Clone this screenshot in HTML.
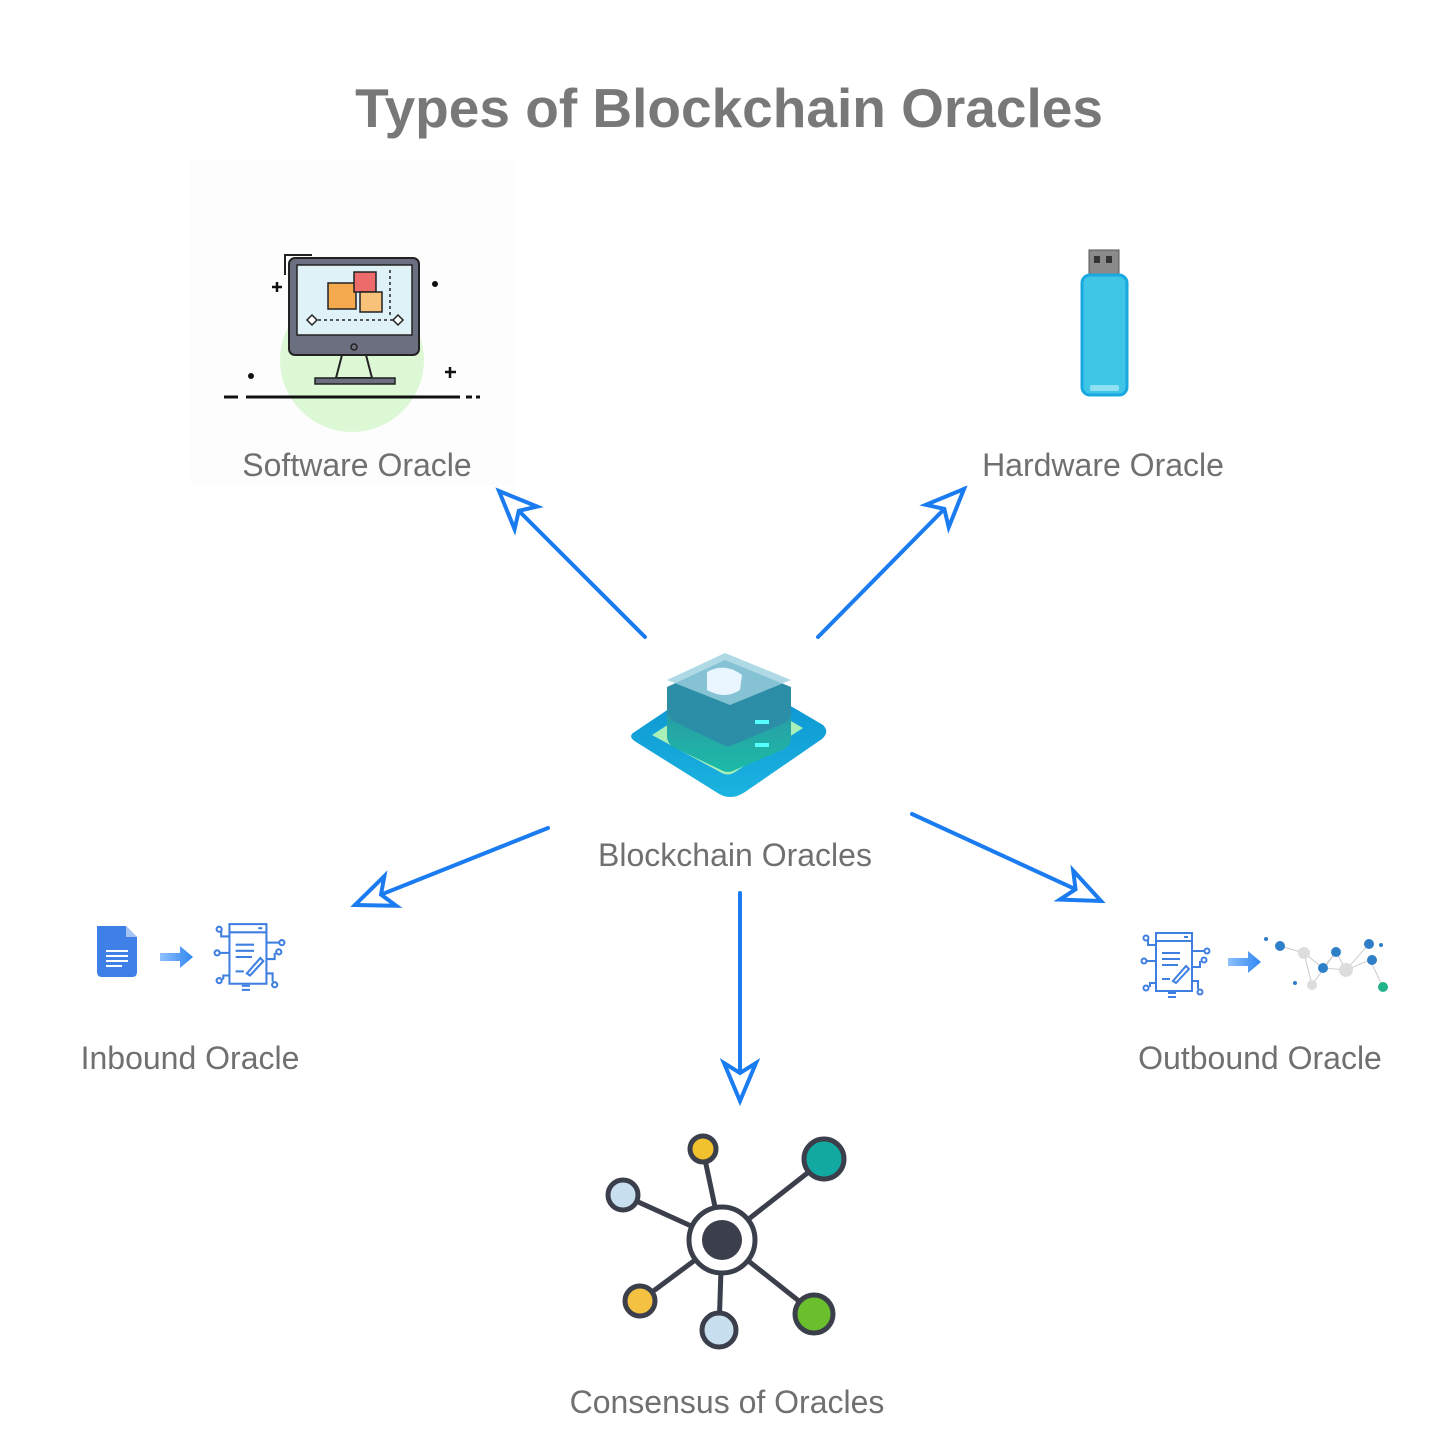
<!DOCTYPE html>
<html><head><meta charset="utf-8"><style>
html,body{margin:0;padding:0;background:#fff}
svg{display:block}
text{font-family:"Liberation Sans","DejaVu Sans",sans-serif;fill:#707070}
</style></head><body>
<svg width="1456" height="1456" viewBox="0 0 1456 1456" xmlns="http://www.w3.org/2000/svg">
<defs>
<marker id="ah" markerUnits="userSpaceOnUse" markerWidth="50" markerHeight="50" refX="0" refY="0" orient="auto" viewBox="-45 -25 50 50">
<path d="M0,0 L-38,-16 L-28,0 L-38,16 Z" fill="#fff" stroke="#1a7cf0" stroke-width="4" stroke-linejoin="miter"/>
</marker>
<symbol id="contract" viewBox="0 0 72 68">
<g fill="none" stroke="#3f7fe0" stroke-width="2">
<rect x="16" y="2" width="36" height="58"/>
<line x1="16" y1="10" x2="52" y2="10"/>
<line x1="44" y1="6" x2="48" y2="6"/>
<line x1="22" y1="22" x2="40" y2="22"/><line x1="22" y1="28" x2="40" y2="28"/><line x1="22" y1="34" x2="38" y2="34"/>
<line x1="22" y1="48" x2="30" y2="48"/>
<path d="M33 50 L46 35 L49 38 L36 52 Z"/>
<path d="M16 14 H8 V9"/><circle cx="6" cy="7" r="2.5"/>
<path d="M16 30 H6"/><circle cx="4" cy="30" r="2.5"/>
<path d="M16 52 H10 V56"/><circle cx="6" cy="57" r="2.5"/>
<path d="M52 20 H64"/><circle cx="67" cy="20" r="2.5"/>
<path d="M52 36 H60 V30"/><circle cx="64" cy="29" r="2.5"/>
<path d="M52 50 H58 V58"/><circle cx="60" cy="61" r="2.5"/>
<line x1="28" y1="62" x2="36" y2="62"/><line x1="28" y1="66" x2="36" y2="66"/>
</g>
</symbol>
<linearGradient id="barr" x1="0" x2="1"><stop offset="0" stop-color="#8fc0ff"/><stop offset="1" stop-color="#2f86f0"/></linearGradient>
<linearGradient id="base" x1="0" y1="0" x2="0" y2="1"><stop offset="0" stop-color="#0a8fd0"/><stop offset="1" stop-color="#1bb4e0"/></linearGradient>
<linearGradient id="layer" x1="0" y1="0" x2="0" y2="1"><stop offset="0" stop-color="#2e8fa6"/><stop offset="1" stop-color="#1cbba6"/></linearGradient>
</defs>

<text x="729" y="127" font-size="55" text-anchor="middle" font-weight="bold" style="fill:#787878">Types of Blockchain Oracles</text>

<!-- Software oracle icon -->
<rect x="190" y="160" width="325" height="325" fill="#fdfdfd"/>
<circle cx="352" cy="360" r="72" fill="#dcf8d4"/>
<path d="M285 275 V255 H312" fill="none" stroke="#222" stroke-width="2"/>
<rect x="289" y="258" width="130" height="97" rx="6" fill="#6b6f7f" stroke="#222" stroke-width="2"/>
<rect x="297" y="265" width="115" height="70" fill="#dff2f8" stroke="#222" stroke-width="1.5"/>
<circle cx="354" cy="347" r="3" fill="none" stroke="#222" stroke-width="1.5"/>
<path d="M342 355 L336 378 H372 L366 355" fill="none" stroke="#222" stroke-width="2"/>
<rect x="315" y="378" width="80" height="6" fill="#6b6f7f" stroke="#222" stroke-width="1.5"/>
<rect x="328" y="283" width="28" height="26" fill="#f4a94e" stroke="#222" stroke-width="1.5"/>
<rect x="354" y="272" width="22" height="20" fill="#ec6c6c" stroke="#222" stroke-width="1.5"/>
<rect x="360" y="292" width="22" height="20" fill="#f8c27a" stroke="#222" stroke-width="1.5"/>
<path d="M312 320 H398 M390 270 V315" stroke="#222" stroke-width="1.5" stroke-dasharray="3 3" fill="none"/>
<path d="M312 315 l5 5 -5 5 -5 -5z M398 315 l5 5 -5 5 -5 -5z" fill="#fff" stroke="#222" stroke-width="1.5"/>
<path d="M224 397 H238 M246 397 H460 M466 397 H472 M476 397 H480" stroke="#111" stroke-width="3"/>
<path d="M272 287 h10 M277 282 v10 M445 372 h11 M450 367 v11" stroke="#111" stroke-width="2.5"/>
<circle cx="435" cy="284" r="3" fill="#111"/><circle cx="251" cy="376" r="3" fill="#111"/>
<text x="357" y="476" font-size="32" text-anchor="middle">Software Oracle</text>

<!-- Hardware oracle -->
<rect x="1089" y="250" width="30" height="28" fill="#8a8a8a" stroke="#555" stroke-width="1"/>
<rect x="1094" y="256" width="6" height="7" fill="#333"/><rect x="1106" y="256" width="6" height="7" fill="#333"/>
<rect x="1082" y="275" width="45" height="120" rx="8" fill="#3fc6e6" stroke="#1aa8e0" stroke-width="3"/>
<rect x="1090" y="385" width="29" height="6" rx="2" fill="#8ee0f2"/>
<text x="1103" y="476" font-size="32" text-anchor="middle">Hardware Oracle</text>

<!-- Arrows -->
<g stroke="#1a7cf0" stroke-width="4" fill="none" stroke-linecap="round">
<line x1="645" y1="637" x2="499" y2="491" marker-end="url(#ah)"/>
<line x1="818" y1="637" x2="964" y2="489" marker-end="url(#ah)"/>
<line x1="548" y1="828" x2="355" y2="905" marker-end="url(#ah)"/>
<line x1="912" y1="814" x2="1101" y2="901" marker-end="url(#ah)"/>
<line x1="740" y1="893" x2="740" y2="1101" marker-end="url(#ah)"/>
</g>

<!-- Center icon -->
<path d="M633 733 L715 678 Q729 670 743 678 L823 725 Q830 732 822 739 L745 792 Q730 802 716 792 L636 742 Q628 737 633 733Z" fill="url(#base)"/>
<path d="M652 735 L722 690 Q729 686 737 690 L803 728 L735 772 Q728 777 720 772Z" fill="#a9f0b8"/>
<path d="M667 712 L725 685 L791 712 L791 738 Q791 746 782 750 L735 770 Q728 774 721 770 L675 748 Q667 744 667 736Z" fill="url(#layer)"/>
<path d="M667 687 L725 660 L791 687 L791 713 Q791 720 782 724 L735 744 Q728 748 721 744 L675 722 Q667 718 667 711Z" fill="#2c8ea6"/>
<path d="M667 680 L725 653 L791 680 L730 705 Z" fill="#9ccfe0" opacity="0.8"/>
<path d="M707 672 Q725 662 742 675 L740 690 Q725 700 707 690 Z" fill="#eaf6ff"/>
<path d="M755 722 h14 M755 745 h14" stroke="#5ff" stroke-width="4"/>
<text x="735" y="866" font-size="32" text-anchor="middle">Blockchain Oracles</text>

<!-- Inbound -->
<path d="M97 926 H126 L137 937 V972 Q137 977 132 977 H102 Q97 977 97 972Z" fill="#3f7fe8"/>
<path d="M126 926 V937 H137Z" fill="#a5c4f4"/>
<path d="M106 951 h22 M106 956 h22 M106 961 h22 M106 966 h16" stroke="#fff" stroke-width="2"/>
<path d="M160 953 H180 V946 L193 957 L180 968 V961 H160Z" fill="url(#barr)"/>
<use href="#contract" x="213" y="922" width="74" height="70"/>
<text x="190" y="1069" font-size="32" text-anchor="middle">Inbound Oracle</text>

<!-- Outbound -->
<use href="#contract" x="1140" y="930" width="72" height="70"/>
<path d="M1228 958 H1248 V951 L1261 962 L1248 973 V966 H1228Z" fill="url(#barr)"/>
<g stroke="#ccc" stroke-width="1" fill="none">
<path d="M1280 946 L1304 953 L1323 968 L1336 952 L1346 970 L1370 960 L1383 987 M1304 953 L1312 985 L1336 952 M1323 968 L1346 970 L1369 944"/>
</g>
<g fill="#ddd"><circle cx="1304" cy="953" r="6"/><circle cx="1346" cy="970" r="7"/><circle cx="1312" cy="985" r="5"/></g>
<g fill="#2f7fc8"><circle cx="1280" cy="946" r="5"/><circle cx="1336" cy="952" r="5"/><circle cx="1323" cy="968" r="5"/><circle cx="1369" cy="944" r="5"/><circle cx="1372" cy="960" r="5"/><circle cx="1266" cy="939" r="2"/><circle cx="1295" cy="983" r="2"/><circle cx="1381" cy="945" r="2"/></g>
<circle cx="1383" cy="987" r="5" fill="#22b38a"/>
<text x="1260" y="1069" font-size="32" text-anchor="middle">Outbound Oracle</text>

<!-- Consensus -->
<g stroke="#3a3f4b" stroke-width="5" fill="none">
<line x1="722" y1="1240" x2="703" y2="1150"/>
<line x1="722" y1="1240" x2="824" y2="1160"/>
<line x1="722" y1="1240" x2="623" y2="1195"/>
<line x1="722" y1="1240" x2="640" y2="1301"/>
<line x1="722" y1="1240" x2="719" y2="1330"/>
<line x1="722" y1="1240" x2="814" y2="1313"/>
</g>
<circle cx="722" cy="1240" r="33" fill="#fff" stroke="#3a3f4b" stroke-width="5"/>
<circle cx="722" cy="1240" r="20" fill="#3a3f4b"/>
<g stroke="#3a3f4b" stroke-width="5">
<circle cx="703" cy="1149" r="13" fill="#f2c12e"/>
<circle cx="824" cy="1159" r="20" fill="#12aaa0"/>
<circle cx="623" cy="1195" r="15" fill="#c8dff0"/>
<circle cx="640" cy="1301" r="15" fill="#f4c142"/>
<circle cx="719" cy="1330" r="17" fill="#c8dff0"/>
<circle cx="814" cy="1314" r="19" fill="#6bbf2c"/>
</g>
<text x="727" y="1413" font-size="32" text-anchor="middle">Consensus of Oracles</text>
</svg>
</body></html>
